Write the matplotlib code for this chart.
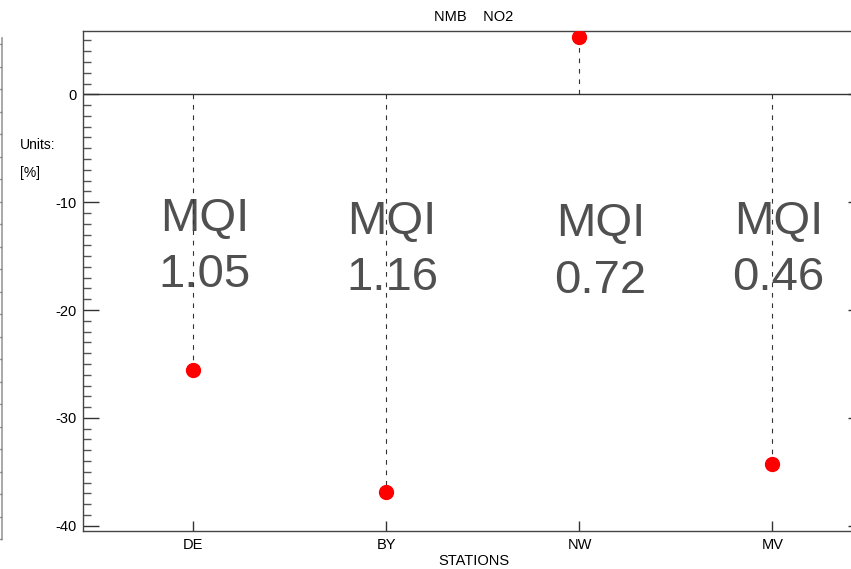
import matplotlib.pyplot as plt
import numpy as np
from matplotlib.ticker import MultipleLocator

plt.rcParams['font.family'] = ['Liberation Sans', 'DejaVu Sans']

# data
stations = ["DE", "BY", "NW", "MV"]
nmb = [-25.6, -36.9, 5.3, -34.3]
mqi = ["1.05", "1.16", "0.72", "0.46"]
mqi_x_shift = [0.06, 0.03, 0.11, 0.03]
mqi_y = [-14.15, -14.45, -14.65, -14.45]

W, H = 851, 569
fig = plt.figure(figsize=(W / 100, H / 100), dpi=100)

# main panel (right spine sits just outside the picture)
left, right, top, bottom = 83.3, 864, 31, 530.7
ax = fig.add_axes([left / W, 1 - bottom / H, (right - left) / W, (bottom - top) / H])

xpos = np.arange(1, len(stations) + 1)
ax.set_xlim(0.430, 4.474)
ax.set_ylim(-40.46, 5.87)

axis_col = '#444444'
for s in ax.spines.values():
    s.set_color(axis_col)
    s.set_linewidth(1.0)

# zero line and dashed drop lines
ax.axhline(0, color='#333333', lw=1.0, zorder=2)
ax.vlines(xpos, 0, nmb, colors='#333333', lw=0.8, linestyles=(0, (4.2, 5.2)), zorder=2)
ax.plot(xpos, nmb, 'o', color='#ff0000', ms=10, mec='#ff0000', zorder=3)

for x, dx, y, q in zip(xpos, mqi_x_shift, mqi_y, mqi):
    ax.text(x + dx, y, "MQI\n" + q, ha='center', va='center', fontsize=34,
            color='#505050', linespacing=1.37, zorder=1)

ax.set_xticks(xpos)
ax.set_xticklabels(stations, fontsize=10.5)
ax.set_yticks([0, -10, -20, -30, -40])
ax.set_yticklabels(["0", "-10", "-20", "-30", "-40"], fontsize=10.5)
ax.yaxis.set_minor_locator(MultipleLocator(1))
ax.tick_params(axis='y', which='major', direction='in', length=11.5, width=1,
               color='#333333', left=True, right=True, pad=5)
ax.tick_params(axis='y', which='minor', direction='in', length=5.8, width=1,
               color='#555555', left=True, right=True)
ax.tick_params(axis='x', which='major', direction='in', length=7.5, width=1,
               color='#333333', bottom=True, top=False, pad=5)

ax.set_xlabel("STATIONS", fontsize=10.5, labelpad=2)
fig.text(473.5 / W, 1 - 17 / H, "NMB    NO2", ha='center', va='center', fontsize=10.5)
fig.text(20 / W, 1 - 145 / H, "Units:", ha='left', va='center', fontsize=10)
fig.text(20 / W, 1 - 173 / H, "[%]", ha='left', va='center', fontsize=10)

# edge of the neighbouring panel on the far left
ax2 = fig.add_axes([-20 / W, 1 - 539 / H, 21.8 / W, (539 - 38) / H])
ax2.set_xlim(0, 1)
ax2.set_ylim(0, 22.27)
for k in ['left', 'top', 'bottom']:
    ax2.spines[k].set_visible(False)
ax2.spines['right'].set_color('#999999')
ax2.spines['right'].set_linewidth(1.2)
ax2.set_xticks([])
ax2.set_yticks(np.arange(0, 23))
ax2.set_yticklabels([])
ax2.yaxis.tick_right()
ax2.tick_params(axis='y', direction='in', length=1.5, width=1, color='#333333')
ax2.patch.set_visible(False)

fig.savefig("out.png", dpi=100)
